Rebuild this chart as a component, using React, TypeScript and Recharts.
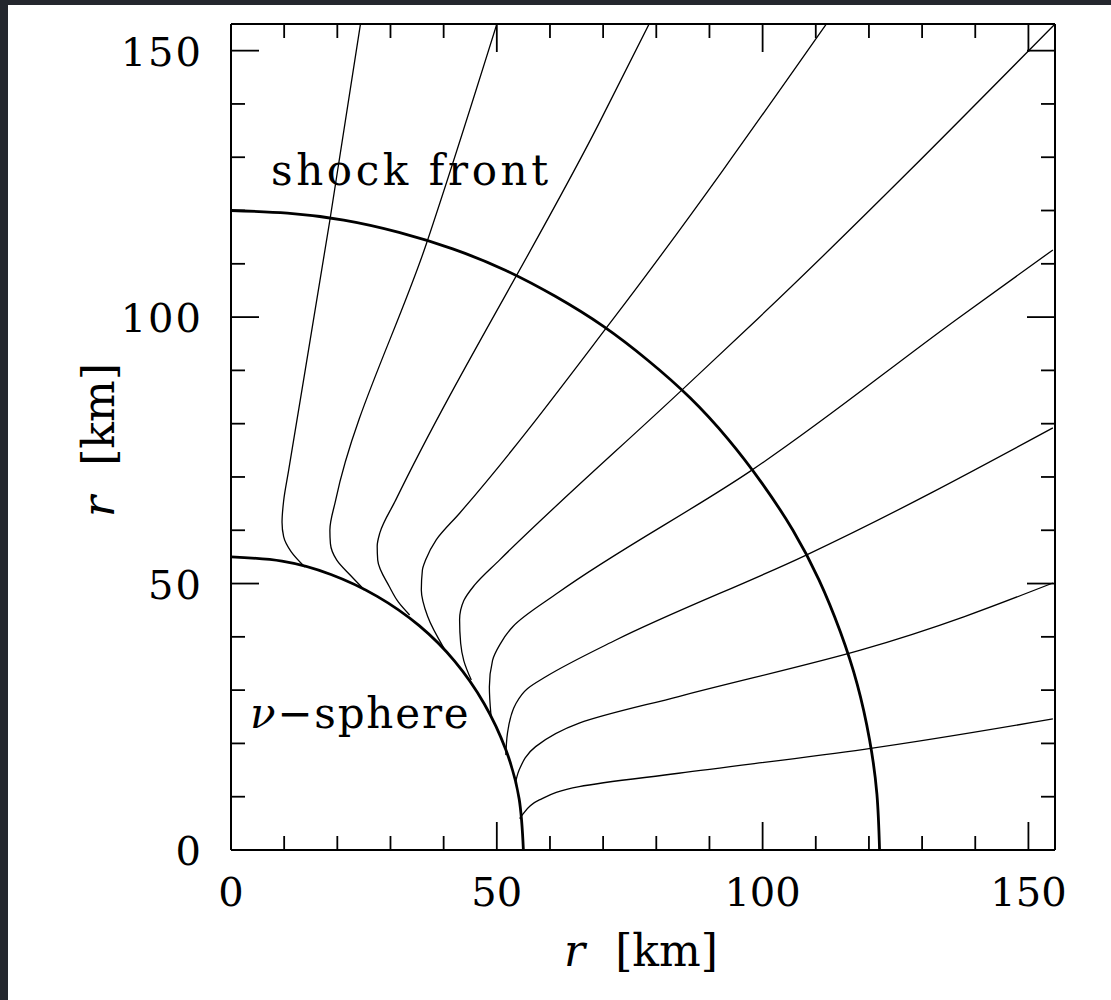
import React from 'react'
import { LineChart, Line, XAxis, YAxis } from 'recharts'

// axis ticks in km, every 10, labelled every 50
const tickValues = [0, 10, 20, 30, 40, 50, 60, 70, 80, 90, 100, 110, 120, 130, 140, 150]
const labelledTicks = [0, 50, 100, 150]

// neutrinosphere, read along the arc from the x axis to the y axis
const nuSphere: [number, number][] = [
  [55.0, 0], [54.2, 9.6], [51.7, 18.8], [47.6, 27.5], [42.1, 35.4], [35.4, 42.1],
  [27.5, 47.6], [18.8, 51.7], [9.6, 54.2], [0, 55.0],
]

// shock front, slightly wider along x than along y
const shockFront: [number, number][] = [
  [122.0, 0], [121.5, 10.5], [120.1, 20.8], [117.8, 31.1], [114.6, 41.0], [110.6, 50.7],
  [105.7, 60.0], [99.9, 68.8], [93.5, 77.1], [86.3, 84.9], [78.4, 91.9], [70.0, 98.3],
  [61.0, 103.9], [51.6, 108.8], [41.7, 112.8], [31.6, 115.9], [21.2, 118.2], [10.6, 119.5],
  [0, 120.0],
]

// flow lines, from the neutrinosphere out to the frame
const flow1: [number, number][] = [
  [13.9, 53.1], [11.3, 56.0], [9.9, 58.8], [9.6, 61.5], [9.9, 65.5], [10.8, 71.0],
  [18.6, 118.2], [24.4, 155.3],
]
const flow2: [number, number][] = [
  [25.1, 48.8], [22.5, 51.5], [19.9, 54.4], [18.7, 57.5], [18.6, 60.0], [19.7, 65.7],
  [36.8, 113.9], [50.1, 155.3],
]
const flow3: [number, number][] = [
  [33.6, 44.1], [31.5, 46.5], [29.8, 49.4], [27.6, 54.4], [27.5, 57.0], [28.0, 59.5],
  [31.0, 65.7], [69.2, 136.3], [78.8, 155.3],
]
const flow4: [number, number][] = [
  [40.1, 37.8], [37.0, 43.8], [35.8, 48.8], [36.0, 52.5], [36.6, 54.4], [38.6, 58.2],
  [43.0, 63.2], [72.0, 99.8], [112.2, 155.3],
]
const flow5: [number, number][] = [
  [45.2, 31.9], [43.8, 35.5], [43.2, 38.8], [43.0, 43.2], [43.8, 46.8], [45.8, 49.7],
  [50.5, 54.4], [84.8, 86.3], [99.2, 99.8], [155.0, 155.0],
]
const flow6: [number, number][] = [
  [48.9, 25.3], [48.6, 30.6], [49.2, 35.6], [50.6, 38.6], [53.0, 41.9], [61.7, 48.4],
  [97.7, 71.1], [136.8, 99.8], [154.6, 112.6],
]
const flow7: [number, number][] = [
  [51.7, 17.8], [52.0, 21.9], [53.6, 27.5], [55.8, 30.3], [59.2, 32.5], [72.4, 39.4],
  [107.9, 55.2], [154.6, 79.2],
]
const flow8: [number, number][] = [
  [53.5, 12.5], [54.2, 15.0], [57.3, 19.4], [65.5, 23.8], [84.2, 28.8], [118.4, 37.5],
  [154.6, 50.1],
]
const flow9: [number, number][] = [
  [54.3, 5.9], [54.8, 6.6], [58.0, 9.4], [65.5, 11.9], [84.2, 14.4], [119.1, 18.9],
  [154.6, 24.6],
]
const flows = [flow1, flow2, flow3, flow4, flow5, flow6, flow7, flow8, flow9]

const pts = (a: [number, number][]) => a.map(([x, y]) => ({ x, y }))

const FONT = '"DejaVu Serif", serif'
const tickLen = (v: number) => (v % 50 === 0 ? 28 : 14)

const BottomTick = (p: any) => {
  const { x, y, payload } = p
  const v = payload.value
  return (
    <g>
      <line x1={x} y1={y} x2={x} y2={y - tickLen(v)} stroke="#000" strokeWidth={1.8} />
      {labelledTicks.includes(v) && (
        <text x={x} y={y + 56} textAnchor="middle" fontFamily={FONT} fontSize={40} fill="#000">
          {v}
        </text>
      )}
    </g>
  )
}

const LeftTick = (p: any) => {
  const { x, y, payload } = p
  const v = payload.value
  return (
    <g>
      <line x1={x} y1={y} x2={x + tickLen(v)} y2={y} stroke="#000" strokeWidth={1.8} />
      {labelledTicks.includes(v) && (
        <text x={x - 28} y={y + 15} textAnchor="end" fontFamily={FONT} fontSize={40} letterSpacing={2} fill="#000">
          {v}
        </text>
      )}
    </g>
  )
}

const TopTick = (p: any) => {
  const { x, y, payload } = p
  return <line x1={x} y1={y} x2={x} y2={y + tickLen(payload.value)} stroke="#000" strokeWidth={1.8} />
}

const RightTick = (p: any) => {
  const { x, y, payload } = p
  return <line x1={x} y1={y} x2={x - tickLen(payload.value)} y2={y} stroke="#000" strokeWidth={1.8} />
}

const frameLine = { stroke: '#000', strokeWidth: 2 }

export default function App() {
  return (
    <div style={{ position: 'absolute', left: 0, top: 0, width: 1111, height: 1000, background: '#24272e', overflow: 'hidden' }}>
      <div style={{ position: 'absolute', left: 8, top: 5, right: 0, bottom: 0, background: '#fff' }} />
      <div style={{ position: 'absolute', left: 0, top: 0 }}>
        <LineChart width={1111} height={1000} margin={{ top: 23, right: 55, bottom: 149, left: 230 }}>
          <XAxis
            xAxisId="b"
            dataKey="x"
            type="number"
            domain={[0, 155]}
            allowDataOverflow
            ticks={tickValues}
            interval={0}
            height={1}
            tickSize={0}
            tickMargin={0}
            tickLine={false}
            axisLine={frameLine}
            tick={BottomTick}
          />
          <XAxis
            xAxisId="t"
            orientation="top"
            dataKey="x"
            type="number"
            domain={[0, 155]}
            allowDataOverflow
            ticks={tickValues}
            interval={0}
            height={1}
            tickSize={0}
            tickMargin={0}
            tickLine={false}
            axisLine={frameLine}
            tick={TopTick}
          />
          <YAxis
            yAxisId="l"
            type="number"
            domain={[0, 155]}
            allowDataOverflow
            ticks={tickValues}
            interval={0}
            width={1}
            tickSize={0}
            tickMargin={0}
            tickLine={false}
            axisLine={frameLine}
            tick={LeftTick}
          />
          <YAxis
            yAxisId="r"
            orientation="right"
            type="number"
            domain={[0, 155]}
            allowDataOverflow
            ticks={tickValues}
            interval={0}
            width={1}
            tickSize={0}
            tickMargin={0}
            tickLine={false}
            axisLine={frameLine}
            tick={RightTick}
          />
          {flows.map((f, i) => (
            <Line
              key={'flow' + i}
              data={pts(f)}
              dataKey="y"
              xAxisId="b"
              yAxisId="l"
              type="monotoneY"
              stroke="#000"
              strokeWidth={1.3}
              dot={false}
              activeDot={false}
              isAnimationActive={false}
            />
          ))}
          <Line
            data={pts(nuSphere)}
            dataKey="y"
            xAxisId="b"
            yAxisId="l"
            type="natural"
            stroke="#000"
            strokeWidth={2.8}
            dot={false}
            activeDot={false}
            isAnimationActive={false}
          />
          <Line
            data={pts(shockFront)}
            dataKey="y"
            xAxisId="b"
            yAxisId="l"
            type="natural"
            stroke="#000"
            strokeWidth={2.8}
            dot={false}
            activeDot={false}
            isAnimationActive={false}
          />
        </LineChart>
      </div>
      <svg width={1111} height={1000} style={{ position: 'absolute', left: 0, top: 0, pointerEvents: 'none' }}>
        <text x={271} y={185} fontFamily={FONT} fontSize={42} letterSpacing={3.6} fill="#000">
          shock front
        </text>
        <text x={250} y={728} fontFamily={FONT} fontSize={42} letterSpacing={1.8} fill="#000">
          <tspan fontStyle="italic">ν</tspan>−sphere
        </text>
        <text x={641} y={966} textAnchor="middle" fontFamily={FONT} fontSize={44} fill="#000">
          <tspan fontStyle="italic">r</tspan>
          <tspan dx={30}>[km]</tspan>
        </text>
        <text transform="translate(114,440) rotate(-90)" textAnchor="middle" fontFamily={FONT} fontSize={44} fill="#000">
          <tspan fontStyle="italic">r</tspan>
          <tspan dx={30}>[km]</tspan>
        </text>
      </svg>
    </div>
  )
}
